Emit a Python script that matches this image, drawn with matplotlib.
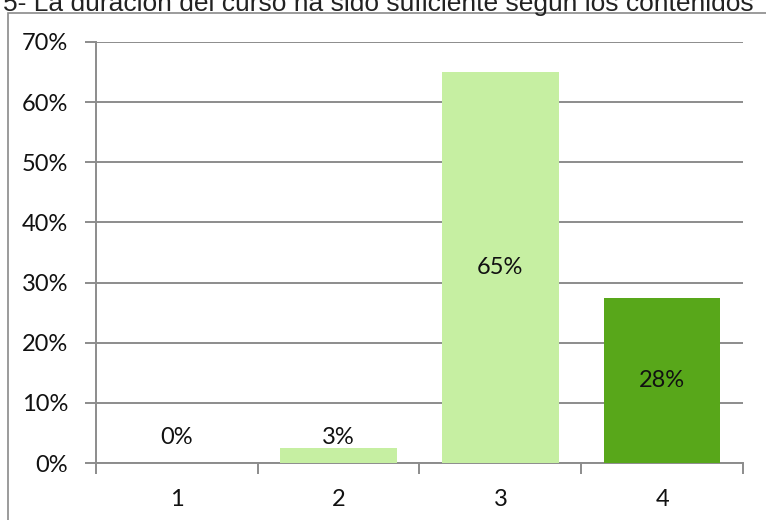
import matplotlib.pyplot as plt
from matplotlib.patches import Rectangle
from matplotlib.ticker import PercentFormatter

# datos
categorias = ['1', '2', '3', '4']
valores = [0.0, 2.5, 65.0, 27.5]
etiquetas = ['0%', '3%', '65%', '28%']
colores = ['#C6EFA2', '#C6EFA2', '#C6EFA2', '#58A71A']

titulo = '5- La duración del curso ha sido suficiente según los contenidos'

plt.rcParams['font.family'] = ['Lato', 'DejaVu Sans']

fig = plt.figure(figsize=(7.66, 5.2), dpi=100)
ax = fig.add_axes([96 / 766, 57 / 520, (743 - 96) / 766, (463 - 42) / 520])

# marco del grafico
fig.patches.append(Rectangle((8 / 766, -0.1), 1.2, 1.0 - 13 / 520 + 0.1,
                             transform=fig.transFigure, fill=False,
                             edgecolor='#8a8a8a', lw=1.2))

x = list(range(len(categorias)))
ax.bar(x, valores, width=0.72, color=colores, zorder=3)

for xi, v, lab in zip(x, valores, etiquetas):
    if v < 10:
        ax.text(xi, 4.3, lab, ha='center', va='center', fontsize=17, color='#111111', zorder=4)
    else:
        ax.text(xi, v / 2, lab, ha='center', va='center', fontsize=17, color='#111111', zorder=4)

ax.set_xlim(-0.5, 3.5)
ax.set_ylim(0, 70)
ax.set_yticks(range(0, 71, 10))
ax.yaxis.set_major_formatter(PercentFormatter(decimals=0))
ax.set_xticks(x)
ax.set_xticklabels(categorias)
ax.set_xticks([-0.5, 0.5, 1.5, 2.5, 3.5], minor=True)

ax.grid(axis='y', color='#8c8c8c', lw=1.4, zorder=0)
for s in ['top', 'right']:
    ax.spines[s].set_visible(False)
for s in ['left', 'bottom']:
    ax.spines[s].set_color('#8c8c8c')
    ax.spines[s].set_linewidth(1.4)

ax.tick_params(axis='y', length=8, width=1.4, color='#8c8c8c', pad=12, labelsize=17,
               labelcolor='#111111')
ax.tick_params(axis='x', which='major', length=0, pad=19, labelsize=17, labelcolor='#111111')
ax.tick_params(axis='x', which='minor', length=8, width=1.4, color='#8c8c8c')

fig.text(0.004, 1 - 11 / 520, titulo, ha='left', va='baseline',
         fontsize=19, family=['Liberation Sans', 'DejaVu Sans'], color='#222222')

plt.savefig('out.png', dpi=100)
